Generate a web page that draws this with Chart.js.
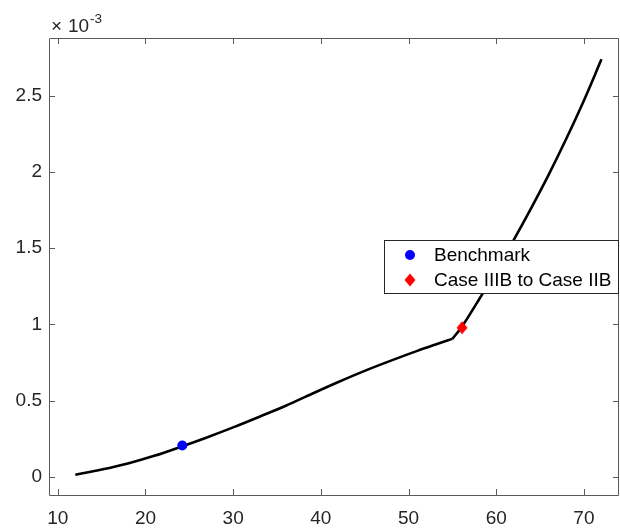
<!DOCTYPE html>
<html lang="en">
<head>
    <meta charset="UTF-8">
    <title>Curve</title>
    <script src="https://cdn.jsdelivr.net/npm/chart.js"></script>
    <style>
        html, body { margin: 0; padding: 0; background: #fff; overflow: hidden; }
        #wrap { width: 620px; height: 528px; }
        canvas { display: block; }
    </style>
</head>
<body>
    <div id="wrap"><canvas id="grafico" width="620" height="528"></canvas></div>

    <script>
        // Datos (y en unidades de 1e-3)
        // tramo antes del quiebre
        const xLow = [12, 15, 18, 21, 24, 27, 30, 33, 36, 39, 42, 45, 48, 51, 53, 55];
        const yLow = [0.013, 0.047, 0.087, 0.137, 0.196, 0.258, 0.324, 0.394, 0.466, 0.545, 0.622, 0.695, 0.762, 0.826, 0.866, 0.905];
        // tramo despues del quiebre
        const xHigh = [55, 56, 58, 60, 62, 64, 66, 68, 70, 72];
        const yHigh = [0.905, 0.978, 1.16, 1.355, 1.555, 1.765, 1.985, 2.22, 2.47, 2.74];
        const benchmarkX = [24.2];
        const benchmarkY = [0.205];
        const switchX = [56.1];
        const switchY = [0.978];
        const xTicks = [10, 20, 30, 40, 50, 60, 70];
        const yTicks = [0, 0.5, 1, 1.5, 2, 2.5];
        const legendLabels = ['Benchmark', 'Case IIIB to Case IIB'];

        const toPts = (xs, ys) => xs.map((x, i) => ({ x: x, y: ys[i] }));
        const fontFam = '"Liberation Sans", Arial, sans-serif';

        // rombo rojo (mas alto que ancho, como en MATLAB)
        const rombo = document.createElement('canvas');
        rombo.width = 12; rombo.height = 14;
        (function () {
            const c = rombo.getContext('2d');
            c.fillStyle = '#ff0000';
            c.beginPath();
            c.moveTo(6, 0.5); c.lineTo(11.5, 7); c.lineTo(6, 13.5); c.lineTo(0.5, 7);
            c.closePath();
            c.fill();
        })();

        // Caja, marcas hacia dentro, exponente y leyenda estilo MATLAB
        const matlabAxes = {
            id: 'matlabAxes',
            afterDraw(chart) {
                const ctx = chart.ctx;
                const a = chart.chartArea;
                const xs = chart.scales.x, ys = chart.scales.y;
                ctx.save();
                ctx.textAlign = 'left';
                ctx.textBaseline = 'alphabetic';
                ctx.strokeStyle = '#5a5a5a';
                ctx.lineWidth = 1;
                ctx.beginPath();
                ctx.rect(Math.round(a.left) + 0.5, Math.round(a.top) + 0.5,
                         Math.round(a.right - a.left) - 1, Math.round(a.bottom - a.top));
                xTicks.forEach(v => {
                    const p = Math.round(xs.getPixelForValue(v)) + 0.5;
                    ctx.moveTo(p, a.bottom); ctx.lineTo(p, a.bottom - 6);
                    ctx.moveTo(p, a.top); ctx.lineTo(p, a.top + 6);
                });
                yTicks.forEach(v => {
                    const p = Math.round(ys.getPixelForValue(v)) + 0.5;
                    ctx.moveTo(a.left, p); ctx.lineTo(a.left + 6, p);
                    ctx.moveTo(a.right, p); ctx.lineTo(a.right - 6, p);
                });
                ctx.stroke();

                // x10^-3
                ctx.fillStyle = '#262626';
                ctx.font = '19px ' + fontFam;
                ctx.fillText('\u00d7', 51, 32);
                ctx.fillText('10', 68, 32);
                ctx.font = '13.5px ' + fontFam;
                ctx.fillText('-3', 90, 23);

                // leyenda
                const bx = 384.5, by = 240.5, bw = 234, bh = 53;
                ctx.fillStyle = '#fff';
                ctx.fillRect(bx, by, bw, bh);
                ctx.strokeStyle = '#262626';
                ctx.strokeRect(bx, by, bw, bh);
                ctx.font = '19px ' + fontFam;
                ctx.fillStyle = '#000';
                ctx.fillText(legendLabels[0], 434, 261);
                ctx.fillText(legendLabels[1], 434, 286);
                ctx.fillStyle = '#0000ff';
                ctx.beginPath();
                ctx.arc(410, 255, 5, 0, Math.PI * 2);
                ctx.fill();
                ctx.drawImage(rombo, 404, 273);
                ctx.restore();
            }
        };

        const tickFont = { family: fontFam, size: 19 };
        const curveStyle = {
            showLine: true,
            borderColor: '#000',
            borderWidth: 2.6,
            pointRadius: 0,
            cubicInterpolationMode: 'monotone',
            order: 2
        };

        new Chart(document.getElementById('grafico'), {
            type: 'scatter',
            data: {
                datasets: [
                    Object.assign({ label: 'low', data: toPts(xLow, yLow) }, curveStyle),
                    Object.assign({ label: 'high', data: toPts(xHigh, yHigh) }, curveStyle),
                    {
                        label: legendLabels[0],
                        data: toPts(benchmarkX, benchmarkY),
                        pointStyle: 'circle',
                        pointRadius: 5,
                        backgroundColor: '#0000ff',
                        borderWidth: 0,
                        order: 1
                    },
                    {
                        label: legendLabels[1],
                        data: toPts(switchX, switchY),
                        pointStyle: rombo,
                        order: 1
                    }
                ]
            },
            options: {
                responsive: false,
                animation: false,
                layout: { autoPadding: false, padding: { top: 38, right: 1, left: 0, bottom: 0 } },
                plugins: { legend: { display: false }, tooltip: { enabled: false } },
                scales: {
                    x: {
                        type: 'linear',
                        min: 9,
                        max: 74,
                        grid: { display: false, drawTicks: false },
                        border: { display: false },
                        afterBuildTicks: s => { s.ticks = xTicks.map(v => ({ value: v })); },
                        afterFit: s => { s.height = 33; s.paddingLeft = 0; s.paddingRight = 0; },
                        ticks: { color: '#262626', font: tickFont, padding: 12, maxRotation: 0 }
                    },
                    y: {
                        type: 'linear',
                        min: -0.12,
                        max: 2.88,
                        grid: { display: false, drawTicks: false },
                        border: { display: false },
                        afterBuildTicks: s => { s.ticks = yTicks.map(v => ({ value: v })); },
                        afterFit: s => { s.width = 49; s.paddingTop = 0; s.paddingBottom = 0; },
                        ticks: { color: '#262626', font: tickFont, padding: 7, callback: v => String(v) }
                    }
                }
            },
            plugins: [matlabAxes]
        });
    </script>
</body>
</html>
